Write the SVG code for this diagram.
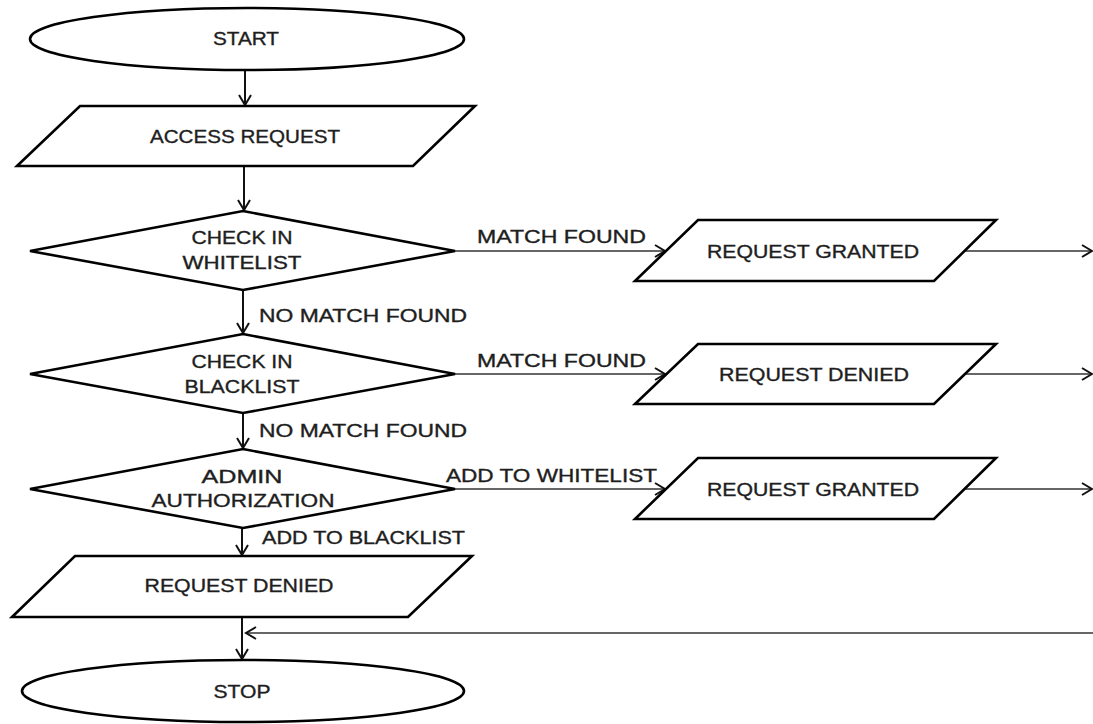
<svg xmlns="http://www.w3.org/2000/svg" width="1093" height="724" viewBox="0 0 1093 724">
<style>
.shape{fill:#fff;stroke:#000;stroke-width:2.6;stroke-linejoin:miter}
.t{font-family:"Liberation Sans",Arial,sans-serif;font-size:18px;fill:#1e1e1e;stroke:#1e1e1e;stroke-width:0.35;text-anchor:middle;dominant-baseline:central}
.lbl{font-family:"Liberation Sans",Arial,sans-serif;font-size:18px;fill:#1e1e1e;stroke:#1e1e1e;stroke-width:0.35;dominant-baseline:central}
.c{fill:none;stroke:#111;stroke-width:2;marker-end:url(#arr)}
.cs{fill:none;stroke:#333;stroke-width:1.6;marker-end:url(#arr)}
</style>
<defs>
<marker id="arr" markerUnits="userSpaceOnUse" markerWidth="16" markerHeight="16" viewBox="-12 -8 14 16" refX="0" refY="0" orient="auto">
<path d="M-10,-6 L0,0 L-10,6" fill="none" stroke="#111" stroke-width="2"/>
</marker>
</defs>
<rect width="1093" height="724" fill="#fff"/>
<g id="connectors">
<line class="c" x1="245" y1="70" x2="245" y2="105"/>
<line class="c" x1="244" y1="166" x2="244" y2="210"/>
<line class="c" x1="243" y1="290" x2="243" y2="333"/>
<line class="c" x1="243" y1="413" x2="243" y2="448"/>
<line class="c" x1="242" y1="528" x2="242" y2="555"/>
<line class="c" x1="242" y1="617" x2="242" y2="659"/>
<line class="cs" x1="1093" y1="633" x2="246" y2="633"/>
<line class="cs" x1="455" y1="251" x2="665" y2="251"/>
<line class="cs" x1="964" y1="251" x2="1092" y2="251"/>
<line class="cs" x1="455" y1="374" x2="665" y2="374"/>
<line class="cs" x1="964" y1="374" x2="1092" y2="374"/>
<line class="cs" x1="455" y1="489" x2="665" y2="489"/>
<line class="cs" x1="964" y1="489" x2="1092" y2="489"/>
<text class="lbl" x="259" y="316" textLength="208" lengthAdjust="spacingAndGlyphs">NO MATCH FOUND</text>
<text class="lbl" x="259" y="431" textLength="208" lengthAdjust="spacingAndGlyphs">NO MATCH FOUND</text>
<text class="lbl" x="262" y="538" textLength="203" lengthAdjust="spacingAndGlyphs">ADD TO BLACKLIST</text>
<text class="lbl" x="477" y="237" textLength="169" lengthAdjust="spacingAndGlyphs">MATCH FOUND</text>
<text class="lbl" x="477" y="361" textLength="169" lengthAdjust="spacingAndGlyphs">MATCH FOUND</text>
<text class="lbl" x="446" y="476" textLength="211" lengthAdjust="spacingAndGlyphs">ADD TO WHITELIST</text>
</g>
<g id="start">
<ellipse class="shape" cx="247" cy="39" rx="217" ry="31"/>
<text class="t" x="246" y="39" textLength="66" lengthAdjust="spacingAndGlyphs">START</text>
</g>
<g id="access-request">
<polygon class="shape" points="80,106 475,106 413,166 17,166"/>
<text class="t" x="245" y="137" textLength="190" lengthAdjust="spacingAndGlyphs">ACCESS REQUEST</text>
</g>
<g id="check-whitelist">
<polygon class="shape" points="243,211 455,251 243,290 30,251"/>
<text class="t" x="242" y="238" textLength="101" lengthAdjust="spacingAndGlyphs">CHECK IN</text>
<text class="t" x="242" y="263" textLength="119" lengthAdjust="spacingAndGlyphs">WHITELIST</text>
</g>
<g id="check-blacklist">
<polygon class="shape" points="243,334 455,374 243,413 30,374"/>
<text class="t" x="242" y="362" textLength="101" lengthAdjust="spacingAndGlyphs">CHECK IN</text>
<text class="t" x="242" y="387" textLength="115" lengthAdjust="spacingAndGlyphs">BLACKLIST</text>
</g>
<g id="admin-authorization">
<polygon class="shape" points="243,449 455,489 243,528 30,489"/>
<text class="t" x="242" y="477" textLength="81" lengthAdjust="spacingAndGlyphs">ADMIN</text>
<text class="t" x="243" y="501" textLength="183" lengthAdjust="spacingAndGlyphs">AUTHORIZATION</text>
</g>
<g id="request-denied-main">
<polygon class="shape" points="75,556 472,556 408,617 12,617"/>
<text class="t" x="239" y="586" textLength="189" lengthAdjust="spacingAndGlyphs">REQUEST DENIED</text>
</g>
<g id="stop">
<ellipse class="shape" cx="243" cy="691" rx="221" ry="31"/>
<text class="t" x="242" y="692" textLength="57" lengthAdjust="spacingAndGlyphs">STOP</text>
</g>
<g id="request-granted-1">
<polygon class="shape" points="698,220 996,220 934,281 635,281"/>
<text class="t" x="813" y="252" textLength="212" lengthAdjust="spacingAndGlyphs">REQUEST GRANTED</text>
</g>
<g id="request-denied-2">
<polygon class="shape" points="698,344 996,344 934,404 635,404"/>
<text class="t" x="814" y="375" textLength="190" lengthAdjust="spacingAndGlyphs">REQUEST DENIED</text>
</g>
<g id="request-granted-3">
<polygon class="shape" points="698,458 996,458 934,519 635,519"/>
<text class="t" x="813" y="490" textLength="212" lengthAdjust="spacingAndGlyphs">REQUEST GRANTED</text>
</g>
</svg>
